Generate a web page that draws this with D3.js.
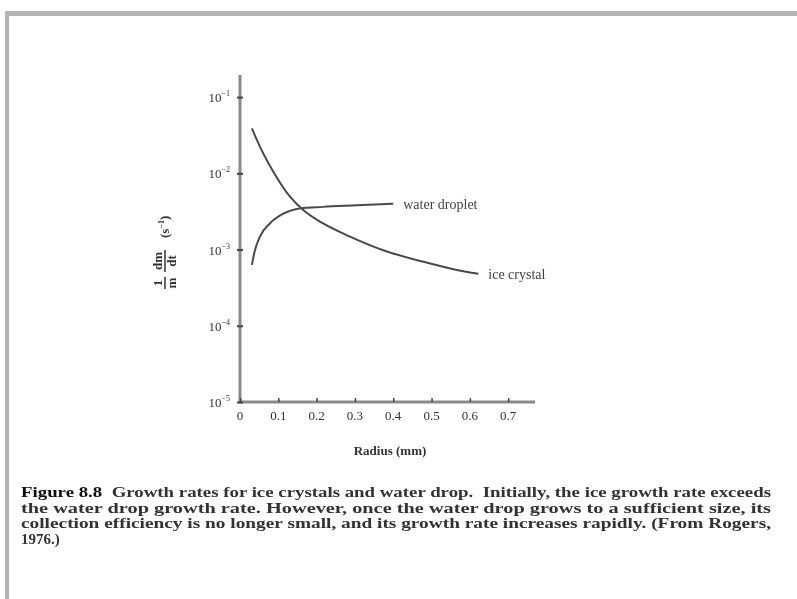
<!DOCTYPE html>
<html>
  <head>
    <meta charset="utf-8" />
    <title>Growth rates for ice crystals and water drop</title>
    <script src="https://d3js.org/d3.v7.min.js"></script>
    <style>
      body { margin: 0; background: #fff; }
      text { font-family: "Liberation Serif", "DejaVu Serif", serif; }
    </style>
  </head>
  <body>
    <svg width="797" height="599"></svg>

    <script>
      // radius (mm) and growth rate 1/m dm/dt (s^-1)
      const iceRadius = [0.031, 0.052, 0.087, 0.131, 0.165, 0.217, 0.287, 0.374, 0.479, 0.566, 0.622];
      const iceRate = [3.9e-2, 2.24e-2, 1.05e-2, 4.9e-3, 3.3e-3, 2.2e-3, 1.48e-3, 9.8e-4, 6.9e-4, 5.4e-4, 4.8e-4];
      const dropRadius = [0.031, 0.039, 0.052, 0.078, 0.113, 0.157, 0.217, 0.305, 0.400];
      const dropRate = [6.3e-4, 9.8e-4, 1.48e-3, 2.2e-3, 2.95e-3, 3.47e-3, 3.63e-3, 3.8e-3, 4.0e-3];
      const xTicks = [0, 0.1, 0.2, 0.3, 0.4, 0.5, 0.6, 0.7];
      const yTicks = [1e-5, 1e-4, 1e-3, 1e-2, 1e-1];

      const caption = [
        "Growth rates for ice crystals and water drop.  Initially, the ice growth rate exceeds",
        "the water drop growth rate.  However, once the water drop grows to a sufficient size, its",
        "collection efficiency is no longer small, and its growth rate increases rapidly.  (From Rogers,",
        "1976.)"
      ];

      const svg = d3.select("svg");

      // soft blur to mimic the scanned page
      svg.append("defs").append("filter").attr("id", "scan")
        .append("feGaussianBlur").attr("stdDeviation", 0.6);

      const g = svg.append("g").attr("filter", "url(#scan)");

      // page border (top and left edge of the scan)
      g.append("rect").attr("x", 5).attr("y", 11).attr("width", 792).attr("height", 5).attr("fill", "#b4b4b4");
      g.append("rect").attr("x", 5).attr("y", 11).attr("width", 4).attr("height", 588).attr("fill", "#b4b4b4");

      const x = d3.scaleLinear().domain([0, 0.77]).range([240, 535]);
      const y = d3.scaleLog().domain([1e-5, 0.195]).range([402, 75]);

      // axes lines
      g.append("line").attr("x1", x(0)).attr("x2", x(0)).attr("y1", y(0.195)).attr("y2", y(1e-5))
        .attr("stroke", "#8a8a8a").attr("stroke-width", 3);
      g.append("line").attr("x1", x(0) - 1).attr("x2", x(0.77)).attr("y1", y(1e-5)).attr("y2", y(1e-5))
        .attr("stroke", "#8a8a8a").attr("stroke-width", 3);

      // x axis ticks and labels
      const xAxis = g.append("g")
        .attr("transform", `translate(0,${y(1e-5)})`)
        .call(d3.axisTop(x).tickValues(xTicks).tickSize(4).tickFormat(""));
      xAxis.select(".domain").remove();
      xAxis.selectAll(".tick line").attr("stroke", "#444").attr("stroke-width", 1.5);

      g.selectAll(".xlab")
        .data(xTicks)
        .enter()
        .append("text")
        .attr("class", "xlab")
        .attr("x", d => x(d))
        .attr("y", 420)
        .attr("text-anchor", "middle")
        .style("font-size", "13px")
        .style("fill", "#333")
        .text(d => d === 0 ? "0" : d3.format(".1f")(d));

      // y axis ticks and labels
      const yAxis = g.append("g")
        .attr("transform", `translate(${x(0)},0)`)
        .call(d3.axisLeft(y).tickValues(yTicks).tickSize(3).tickFormat(""));
      yAxis.select(".domain").remove();
      yAxis.selectAll(".tick line").attr("stroke", "#444").attr("stroke-width", 2).attr("x2", 3).attr("x1", -3);

      const ylab = g.selectAll(".ylab")
        .data(yTicks)
        .enter()
        .append("text")
        .attr("class", "ylab")
        .attr("x", 230)
        .attr("y", d => y(d) + 5)
        .attr("text-anchor", "end")
        .style("font-size", "13px")
        .style("fill", "#333");
      ylab.append("tspan").text("10");
      ylab.append("tspan").attr("dy", -6).style("font-size", "8px")
        .text(d => "−" + Math.round(-Math.log10(d)));

      // axis titles
      g.append("text")
        .attr("x", 390)
        .attr("y", 455)
        .attr("text-anchor", "middle")
        .style("font-size", "13px")
        .style("font-weight", "bold")
        .style("fill", "#333")
        .text("Radius (mm)");

      const yt = g.append("g").attr("transform", "translate(165,250) rotate(-90)")
        .style("fill", "#333").style("font-size", "13px").style("font-weight", "bold");
      // fraction 1/m
      yt.append("text").attr("x", -33).attr("y", -3).attr("text-anchor", "middle").text("1");
      yt.append("text").attr("x", -33).attr("y", 11).attr("text-anchor", "middle").text("m");
      yt.append("line").attr("x1", -39).attr("x2", -27).attr("y1", 0).attr("y2", 0).attr("stroke", "#333").attr("stroke-width", 1.5);
      // fraction dm/dt
      yt.append("text").attr("x", -11).attr("y", -3).attr("text-anchor", "middle").text("dm");
      yt.append("text").attr("x", -11).attr("y", 11).attr("text-anchor", "middle").text("dt");
      yt.append("line").attr("x1", -22).attr("x2", 0).attr("y1", 0).attr("y2", 0).attr("stroke", "#333").attr("stroke-width", 1.5);
      // units
      const un = yt.append("text").attr("x", 12).attr("y", 4);
      un.append("tspan").text("(s");
      un.append("tspan").attr("dy", -5).style("font-size", "8px").text("−1");
      un.append("tspan").attr("dy", 5).text(")");

      // curves
      const line = d3.line()
        .x(d => x(d[0]))
        .y(d => y(d[1]))
        .curve(d3.curveMonotoneX);

      const series = [
        { name: "ice crystal", pts: d3.zip(iceRadius, iceRate) },
        { name: "water droplet", pts: d3.zip(dropRadius, dropRate) }
      ];

      g.selectAll(".curve")
        .data(series)
        .enter()
        .append("path")
        .attr("class", "curve")
        .attr("d", d => line(d.pts))
        .attr("fill", "none")
        .attr("stroke", "#4a4a4a")
        .attr("stroke-width", 2);

      g.selectAll(".clab")
        .data(series)
        .enter()
        .append("text")
        .attr("class", "clab")
        .attr("x", d => x(d.pts[d.pts.length - 1][0]) + 10)
        .attr("y", d => y(d.pts[d.pts.length - 1][1]) + 5)
        .style("font-size", "14px")
        .style("fill", "#444")
        .text(d => d.name);

      // figure caption
      const cap = g.selectAll(".cap")
        .data(caption)
        .enter()
        .append("text")
        .attr("class", "cap")
        .attr("x", 21)
        .attr("y", (d, i) => 497 + i * 15.5)
        .style("font-size", "15px")
        .style("font-weight", "bold")
        .style("fill", "#333");
      cap.each(function(d, i) {
        const t = d3.select(this);
        if (i === 0) {
          t.append("tspan").style("fill", "#111").text("Figure 8.8");
          t.append("tspan").attr("xml:space", "preserve").text("  " + d);
        } else {
          t.text(d);
        }
        if (i < 3) t.attr("textLength", 750).attr("lengthAdjust", "spacingAndGlyphs");
      });
    </script>
  </body>
</html>
